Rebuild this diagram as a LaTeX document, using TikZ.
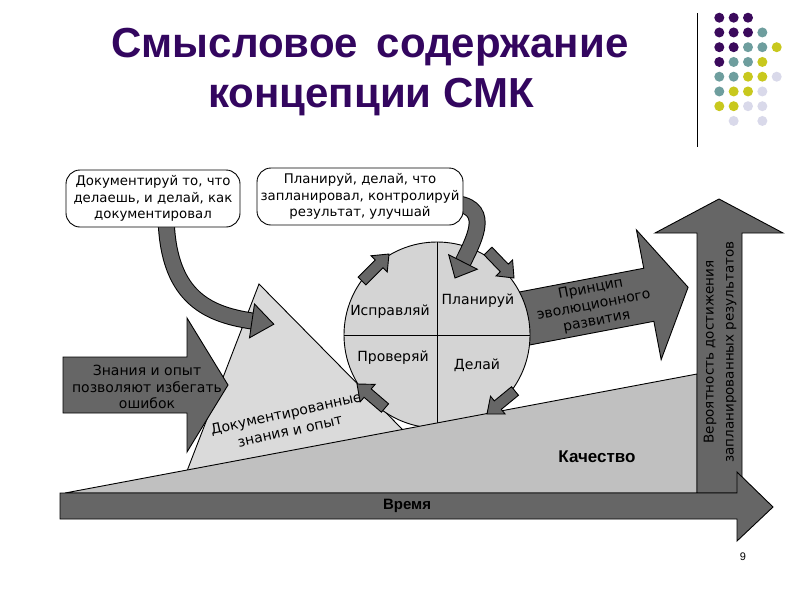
\documentclass[tikz,border=0pt]{standalone}
\usepackage{fontspec}
\setmainfont{Liberation Sans}
\newfontfamily\lblfont{DejaVu Sans}
\usetikzlibrary{calc}
\definecolor{titlec}{HTML}{33065F}
\definecolor{dpur}{HTML}{3B0A5C}
\definecolor{dteal}{HTML}{6E9E9E}
\definecolor{dyel}{HTML}{C8C81E}
\definecolor{dlav}{HTML}{D9D9EA}
\definecolor{darkg}{HTML}{666666}
\definecolor{qualc}{HTML}{C0C0C0}
\definecolor{trigc}{HTML}{DADADA}
\definecolor{circc}{HTML}{D4D4D4}
\newcommand\blockarr[6]{%
  \coordinate (bahb) at ($(#2)!#5!(#1)$);
  \draw[#6] ($(#1)!#3!90:(#2)$) -- ($(bahb)!#3!90:(#2)$) -- ($(bahb)!#4!90:(#2)$) -- (#2)
    -- ($(bahb)!#4!-90:(#2)$) -- ($(bahb)!#3!-90:(#2)$) -- ($(#1)!#3!-90:(#2)$) -- cycle;}
\tikzset{
  blk/.style={draw=black, line width=0.9pt, fill=darkg, line join=miter},
  lbl/.style={font=\lblfont\fontsize{14}{16.5}\selectfont, align=center, inner sep=0pt},
  callout/.style={draw=black, line width=0.9pt, fill=white, rounded corners=14pt, align=center,
    font=\lblfont\fontsize{13.3}{16.5}\selectfont, inner sep=1pt},
  titlestyle/.style={font=\fontsize{42}{48}\selectfont\bfseries, text=titlec, inner sep=0pt},
  bodyout/.style={line width=17pt, draw=black},
  bodyin/.style={line width=15pt, draw=darkg}
}
\begin{document}
\begin{tikzpicture}[x=1pt,y=-1pt]
\useasboundingbox (0,0) rectangle (800,600);
% title
\node[titlestyle] (t1) at (370,47) {Смысловое\, содержание};
\node[titlestyle] (t2) at (371,97) {концепции СМК};
% decoration
\draw[line width=0.8pt] (697,13) -- (697,147);
\foreach \c/\r/\col in {0/0/dpur,1/0/dpur,2/0/dpur,
  0/1/dpur,1/1/dpur,2/1/dpur,3/1/dteal,
  0/2/dpur,1/2/dpur,2/2/dteal,3/2/dteal,4/2/dyel,
  0/3/dpur,1/3/dteal,2/3/dteal,3/3/dyel,
  0/4/dteal,1/4/dteal,2/4/dyel,3/4/dyel,4/4/dlav,
  0/5/dteal,1/5/dyel,2/5/dyel,3/5/dlav,
  0/6/dyel,1/6/dyel,2/6/dlav,3/6/dlav,
  1/7/dlav,3/7/dlav}
  \fill[\col] ({719.3+\c*14.35},{17.7+\r*14.75}) circle (5pt);
% documented knowledge triangle
\draw[line width=0.9pt, fill=trigc, line join=miter] (259,284) -- (403,430) -- (187,471) -- cycle;
\node[lbl, rotate=12.5, font=\lblfont\fontsize{14}{18}\selectfont] (dz) at (288,422) {Документированные\\знания и опыт};
% knowledge arrow
\draw[blk] (63,357) -- (187,357) -- (187,318) -- (228,385) -- (187,452) -- (187,413) -- (63,413) -- cycle;
\node[lbl] (zo) at (147,387) {Знания и опыт\\позволяют избегать\\ошибок};
% evolution arrow
\begin{scope}[shift={(527,318)}, rotate=10.8]
  \draw[blk] (-40,-27) -- (124,-27) -- (124,-66) -- (164,0) -- (124,66) -- (124,27) -- (-40,27) -- cycle;
  \node[lbl, transform shape] (ev) at (68,0) {Принцип\\эволюционного\\развития};
\end{scope}
% PDCA circle
\node[circle, draw=black, line width=0.9pt, fill=circc, minimum size=186pt, inner sep=0pt] (cyc) at (437,335) {};
\draw[line width=0.9pt] (cyc.north) -- (cyc.south);
\draw[line width=0.9pt] (cyc.west) -- (cyc.east);
\node[lbl] (q1) at (390,312) {Исправляй};
\node[lbl] (q2) at (478,301) {Планируй};
\node[lbl] (q3) at (393,358) {Проверяй};
\node[lbl] (q4) at (477,365) {Делай};
% quality wedge
\draw[line width=0.9pt, fill=qualc, line join=miter] (65,493) -- (697,374) -- (697,493) -- cycle;
\node[font=\fontsize{17}{19}\selectfont\bfseries, inner sep=0pt] (kach) at (597,457) {Качество};
% vertical arrow
\draw[blk] (697,493) -- (697,233) -- (655,233) -- (719,199) -- (783,233) -- (742,233) -- (742,493) -- cycle;
\node[lbl, rotate=90, font=\lblfont\fontsize{13.5}{20}\selectfont] (ver) at (720,352) {Вероятность достижения\\запланированных результатов};
% time arrow
\draw[blk] (60,493) -- (737,493) -- (737,472) -- (773,507) -- (737,541) -- (737,519) -- (60,519) -- cycle;
\node[font=\fontsize{15}{17}\selectfont\bfseries, inner sep=0pt] (vr) at (407,506) {Время};
% small cycle arrows
\coordinate (s1a) at (362,281); \coordinate (s1b) at (389,254);
\coordinate (s2a) at (488,251); \coordinate (s2b) at (514,278);
\coordinate (s3a) at (515,391); \coordinate (s3b) at (487,414);
\coordinate (s4a) at (385,408); \coordinate (s4b) at (357,384);
\blockarr{s1a}{s1b}{5.5pt}{11.5pt}{14pt}{blk}
\blockarr{s2a}{s2b}{5.5pt}{11.5pt}{14pt}{blk}
\blockarr{s3a}{s3b}{5.5pt}{11.5pt}{14pt}{blk}
\blockarr{s4a}{s4b}{5.5pt}{11.5pt}{14pt}{blk}
% curved arrow 1
\coordinate (c1s) at (166,212); \coordinate (c1e) at (252,321);
\draw[bodyout] (c1s) .. controls (166,295) and (205,314) .. (c1e);
\draw[bodyin] (c1s) .. controls (166,295) and (205,314) .. (c1e);
\draw[blk] (254.5,304) -- (273.8,324.2) -- (249.5,337.8) -- cycle;
% curved arrow 2
\coordinate (c2s) at (450,203); \coordinate (c2e) at (463,262);
\draw[bodyout] (c2s) .. controls (492,205) and (476,236) .. (c2e);
\draw[bodyin] (c2s) .. controls (492,205) and (476,236) .. (c2e);
\draw[blk] (477.3,269.2) -- (455,278) -- (448.7,254.8) -- cycle;
% callouts
\node[callout, minimum width=174pt, minimum height=57pt] (cb1) at (153,198.5) {Документируй то, что\\делаешь, и делай, как\\документировал};
\node[callout, minimum width=206pt, minimum height=57pt] (cb2) at (360,196.5) {Планируй, делай, что\\запланировал, контролируй\\результат, улучшай};
% page number
\node[font=\fontsize{11}{13}\selectfont, inner sep=0pt] (pg) at (743,557) {9};
\end{tikzpicture}
\end{document}
